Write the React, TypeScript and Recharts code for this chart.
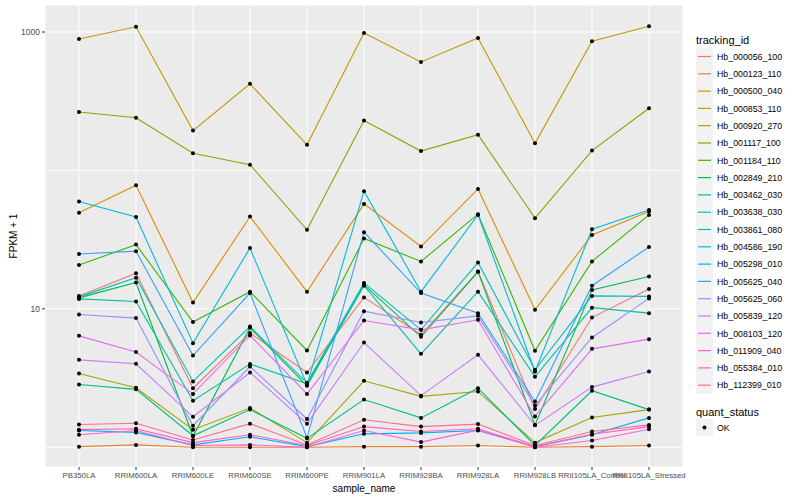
import React from "react";
import {
  LineChart,
  Line,
  XAxis,
  YAxis,
  CartesianGrid,
  ReferenceLine,
} from "recharts";

const samples = [
  "PB350LA",
  "RRIM600LA",
  "RRIM600LE",
  "RRIM600SE",
  "RRIM600PE",
  "RRIM901LA",
  "RRIM928BA",
  "RRIM928LA",
  "RRIM928LB",
  "RRII105LA_Control",
  "RRII105LA_Stressed",
];

const trackingIds = [
  "Hb_000056_100",
  "Hb_000123_110",
  "Hb_000500_040",
  "Hb_000853_110",
  "Hb_000920_270",
  "Hb_001117_100",
  "Hb_001184_110",
  "Hb_002849_210",
  "Hb_003462_030",
  "Hb_003638_030",
  "Hb_003861_080",
  "Hb_004586_190",
  "Hb_005298_010",
  "Hb_005625_040",
  "Hb_005625_060",
  "Hb_005839_120",
  "Hb_008103_120",
  "Hb_011909_040",
  "Hb_055384_010",
  "Hb_112399_010",
];

const colors = [
  "#F8766D", "#EA8331", "#D89000", "#C09B00", "#A3A500",
  "#7CAE00", "#39B600", "#00BB4E", "#00BF7D", "#00C1A3",
  "#00BFC4", "#00BAE0", "#00B0F6", "#35A2FF", "#9590FF",
  "#C77CFF", "#E76BF3", "#FA62DB", "#FF62BC", "#FF6C91",
];

// FPKM + 1, one value per sample
const hb000056_100 = [12.4, 18.1, 2.67, 6.68, 3.47, 12.1, 6.49, 18.6, 1.89, 8.65, 13.9];
const hb000123_110 = [1.01, 1.04, 1.0, 1.0, 1.0, 1.01, 1.01, 1.03, 1.0, 1.01, 1.03];
const hb000500_040 = [49.5, 78.2, 11.1, 46.4, 13.3, 57.3, 28.2, 73.5, 9.84, 34.2, 50.4];
const hb000853_110 = [889, 1091, 194, 422, 153, 984, 607, 906, 157, 857, 1099];
const hb000920_270 = [3.41, 2.69, 1.34, 1.92, 1.08, 3.02, 2.33, 2.53, 1.08, 1.64, 1.87];
const hb001117_100 = [264, 240, 133, 110, 37.2, 229, 138, 181, 45.2, 139, 281];
const hb001184_110 = [20.7, 29.1, 8.02, 13.3, 5.0, 32.2, 22.0, 48.3, 4.98, 22.0, 47.7];
const hb002849_210 = [12.0, 15.5, 1.2, 7.3, 2.78, 14.9, 6.28, 18.5, 1.45, 13.7, 17.1];
const hb003462_030 = [2.84, 2.62, 1.21, 1.87, 1.16, 2.21, 1.63, 2.67, 1.03, 2.56, 1.87];
const hb003638_030 = [11.8, 11.3, 2.17, 3.99, 2.87, 14.7, 4.73, 13.3, 3.23, 10.2, 9.31];
const hb003861_080 = [12.2, 16.8, 2.99, 7.45, 2.92, 15.4, 7.05, 21.6, 3.63, 12.4, 12.3];
const hb004586_190 = [59.6, 46.1, 5.65, 27.5, 2.82, 70.8, 13.3, 47.7, 3.51, 37.6, 51.7];
const hb005298_010 = [1.32, 1.28, 1.04, 1.19, 1.01, 1.25, 1.27, 1.32, 1.01, 1.23, 1.63];
const hb005625_040 = [24.9, 26.1, 4.6, 13.0, 1.17, 35.8, 13.0, 9.31, 2.14, 14.7, 28.0];
const hb005625_060 = [9.1, 8.57, 1.43, 3.83, 1.6, 9.62, 7.96, 8.9, 2.0, 6.21, 11.9];
const hb005839_120 = [4.28, 4.01, 1.66, 3.47, 1.48, 5.71, 2.36, 4.65, 1.44, 2.72, 3.53];
const hb008103_120 = [6.38, 4.87, 2.43, 6.42, 2.43, 8.24, 7.05, 8.33, 1.67, 5.14, 6.04];
const hb011909_040 = [1.23, 1.32, 1.03, 1.04, 1.0, 1.32, 1.09, 1.33, 1.0, 1.12, 1.35];
const hb055384_010 = [1.34, 1.36, 1.08, 1.23, 1.03, 1.41, 1.3, 1.36, 1.01, 1.24, 1.41];
const hb112399_010 = [1.46, 1.49, 1.13, 1.48, 1.04, 1.58, 1.41, 1.47, 1.03, 1.3, 1.45];

const seriesValues = [
  hb000056_100, hb000123_110, hb000500_040, hb000853_110, hb000920_270,
  hb001117_100, hb001184_110, hb002849_210, hb003462_030, hb003638_030,
  hb003861_080, hb004586_190, hb005298_010, hb005625_040, hb005625_060,
  hb005839_120, hb008103_120, hb011909_040, hb055384_010, hb112399_010,
];

const yTicks = [10, 1000];
const minorY = [1, 100];

const data = samples.map((s, i) => {
  const row: Record<string, any> = { sample: s };
  trackingIds.forEach((id, k) => {
    row[id] = seriesValues[k][i];
  });
  return row;
});

const FONT = "'Liberation Sans', Arial, Helvetica, sans-serif";

function LegendOverlay() {
  const x0 = 696;
  const top = 48;
  const step = 17.3;
  return (
    <svg
      width={800}
      height={500}
      style={{ position: "absolute", left: 0, top: 0, pointerEvents: "none" }}
      fontFamily={FONT}
    >
      <text x={364} y={492} textAnchor="middle" fontSize={10} fill="#000">
        sample_name
      </text>
      <text
        x={0}
        y={0}
        transform="translate(17,236) rotate(-90)"
        textAnchor="middle"
        fontSize={10}
        fill="#000"
      >
        FPKM + 1
      </text>
      <text x={x0} y={44} fontSize={11} fill="#000">
        tracking_id
      </text>
      {trackingIds.map((id, i) => {
        const y = top + i * step;
        return (
          <g key={id}>
            <rect x={x0} y={y} width={17} height={17} fill="#F2F2F2" />
            <line
              x1={x0 + 2}
              x2={x0 + 15}
              y1={y + 8.5}
              y2={y + 8.5}
              stroke={colors[i]}
              strokeWidth={1.2}
            />
            <text x={x0 + 21} y={y + 11.7} fontSize={8.8} fill="#000">
              {id}
            </text>
          </g>
        );
      })}
      <text x={x0} y={415.5} fontSize={11} fill="#000">
        quant_status
      </text>
      <rect x={x0} y={419} width={17} height={17} fill="#F2F2F2" />
      <circle cx={x0 + 8.5} cy={427.5} r={2} fill="#000" />
      <text x={x0 + 21} y={430.7} fontSize={8.8} fill="#000">
        OK
      </text>
    </svg>
  );
}

export default function App() {
  return (
    <div
      style={{
        position: "absolute",
        left: 0,
        top: 0,
        width: 800,
        height: 500,
        background: "#fff",
        fontFamily: FONT,
      }}
    >
      <LineChart
        width={800}
        height={500}
        data={data}
        margin={{ top: 5, right: 117, left: 0, bottom: 0 }}
      >
        <CartesianGrid
          stroke="#FFFFFF"
          strokeWidth={1}
          fill="#EBEBEB"
          fillOpacity={1}
        />
        {minorY.map((v) => (
          <ReferenceLine key={v} y={v} stroke="#FFFFFF" strokeWidth={1} />
        ))}
        <XAxis
          dataKey="sample"
          padding={{ left: 34, right: 34 }}
          interval={0}
          height={33}
          tickSize={3}
          tickMargin={2}
          axisLine={false}
          tickLine={{ stroke: "#333333" }}
          tick={{ fontSize: 7.8, fill: "#4D4D4D", fontFamily: FONT }}
        />
        <YAxis
          type="number"
          scale="log"
          domain={[0.72, 1567]}
          allowDataOverflow
          ticks={yTicks}
          width={45}
          tickSize={3}
          tickMargin={2}
          axisLine={false}
          tickLine={{ stroke: "#333333" }}
          tick={{ fontSize: 8.5, fill: "#4D4D4D", fontFamily: FONT }}
        />
        {trackingIds.map((id, k) => (
          <Line
            key={id}
            dataKey={id}
            type="linear"
            stroke={colors[k]}
            strokeWidth={1.1}
            dot={false}
            activeDot={false}
            isAnimationActive={false}
          />
        ))}
        {trackingIds.map((id) => (
          <Line
            key={id + "_pts"}
            dataKey={id}
            type="linear"
            stroke="none"
            dot={{ r: 2, fill: "#000000", stroke: "none" }}
            activeDot={false}
            legendType="none"
            isAnimationActive={false}
          />
        ))}
      </LineChart>
      <LegendOverlay />
    </div>
  );
}
